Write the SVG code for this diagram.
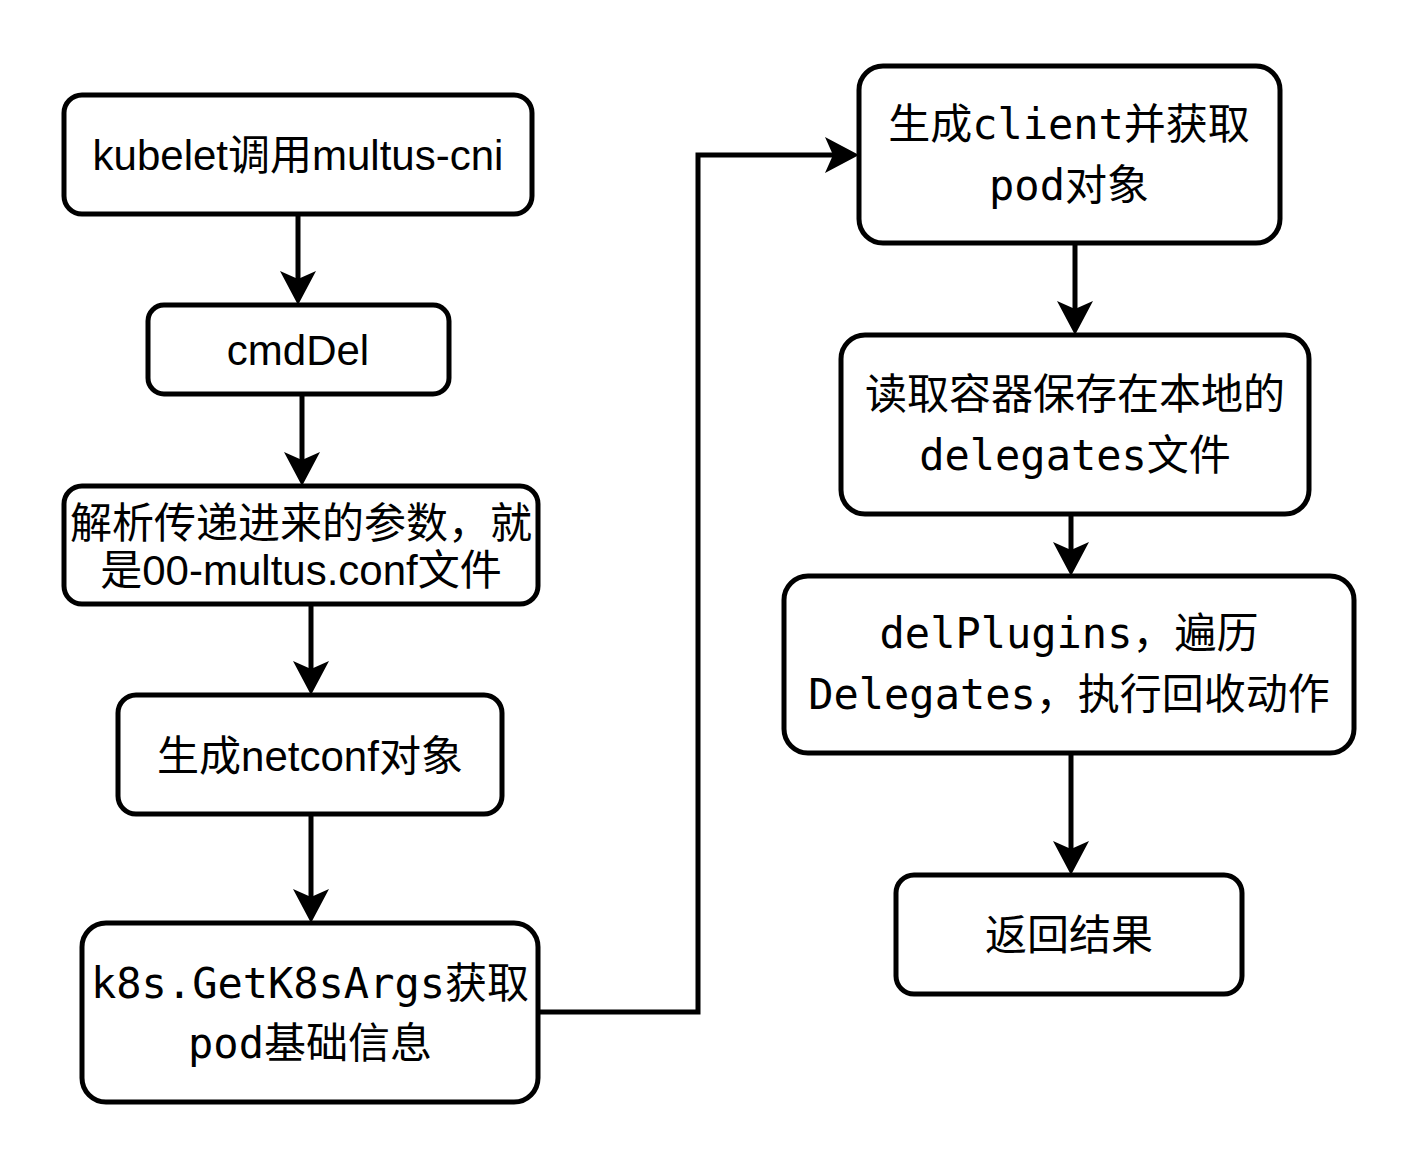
<svg xmlns="http://www.w3.org/2000/svg" width="1416" height="1164" viewBox="0 0 1416 1164">
<style>
.box{fill:#fff;stroke:#000;stroke-width:5}
.sans{font-family:"Liberation Sans","Noto Sans CJK SC",sans-serif;font-size:42px;fill:#000;text-anchor:middle}
.mono{font-family:"DejaVu Sans Mono","Noto Sans CJK SC",monospace;font-size:42px;fill:#000;text-anchor:middle}
.edge{fill:none;stroke:#000;stroke-width:5;marker-end:url(#arr)}
</style>
<defs>
<marker id="arr" markerUnits="userSpaceOnUse" markerWidth="36" markerHeight="38" viewBox="0 0 36 38" refX="8" refY="19" orient="auto">
<path d="M0,1 L34,19 L0,37 L8,19 Z" fill="#000"/>
</marker>
</defs>
<rect width="1416" height="1164" fill="#fff"/>
<g id="connectors">
<path class="edge" d="M298,214 V279"/>
<path class="edge" d="M302,394 V460"/>
<path class="edge" d="M311,604 V669"/>
<path class="edge" d="M311,814 V897"/>
<path class="edge" d="M538,1012 H698 V155 H833"/>
<path class="edge" d="M1075,243 V309"/>
<path class="edge" d="M1071,514 V550"/>
<path class="edge" d="M1071,753 V849"/>
</g>
<g id="n1"><rect class="box" x="64" y="95" width="468" height="119" rx="18"/><text class="sans" x="298" y="170">kubelet调用multus-cni</text></g>
<g id="n2"><rect class="box" x="148" y="305" width="301" height="89" rx="16"/><text class="sans" x="298" y="365">cmdDel</text></g>
<g id="n3"><rect class="box" x="64" y="486" width="474" height="118" rx="18"/><text class="sans" x="301" y="538">解析传递进来的参数，就</text><text class="sans" x="301" y="585">是00-multus.conf文件</text></g>
<g id="n4"><rect class="box" x="118" y="695" width="384" height="119" rx="18"/><text class="sans" x="310" y="771">生成netconf对象</text></g>
<g id="n5"><rect class="box" x="82" y="923" width="456" height="179" rx="24"/><text class="mono" x="310" y="998">k8s.GetK8sArgs获取</text><text class="mono" x="310" y="1058">pod基础信息</text></g>
<g id="n6"><rect class="box" x="859" y="66" width="421" height="177" rx="24"/><text class="mono" x="1069" y="139">生成client并获取</text><text class="mono" x="1069" y="200">pod对象</text></g>
<g id="n7"><rect class="box" x="841" y="335" width="468" height="179" rx="24"/><text class="mono" x="1075" y="409">读取容器保存在本地的</text><text class="mono" x="1075" y="470">delegates文件</text></g>
<g id="n8"><rect class="box" x="784" y="576" width="570" height="177" rx="24"/><text class="mono" x="1069" y="648">delPlugins，遍历</text><text class="mono" x="1069" y="709">Delegates，执行回收动作</text></g>
<g id="n9"><rect class="box" x="896" y="875" width="346" height="119" rx="18"/><text class="mono" x="1069" y="950">返回结果</text></g>
</svg>
